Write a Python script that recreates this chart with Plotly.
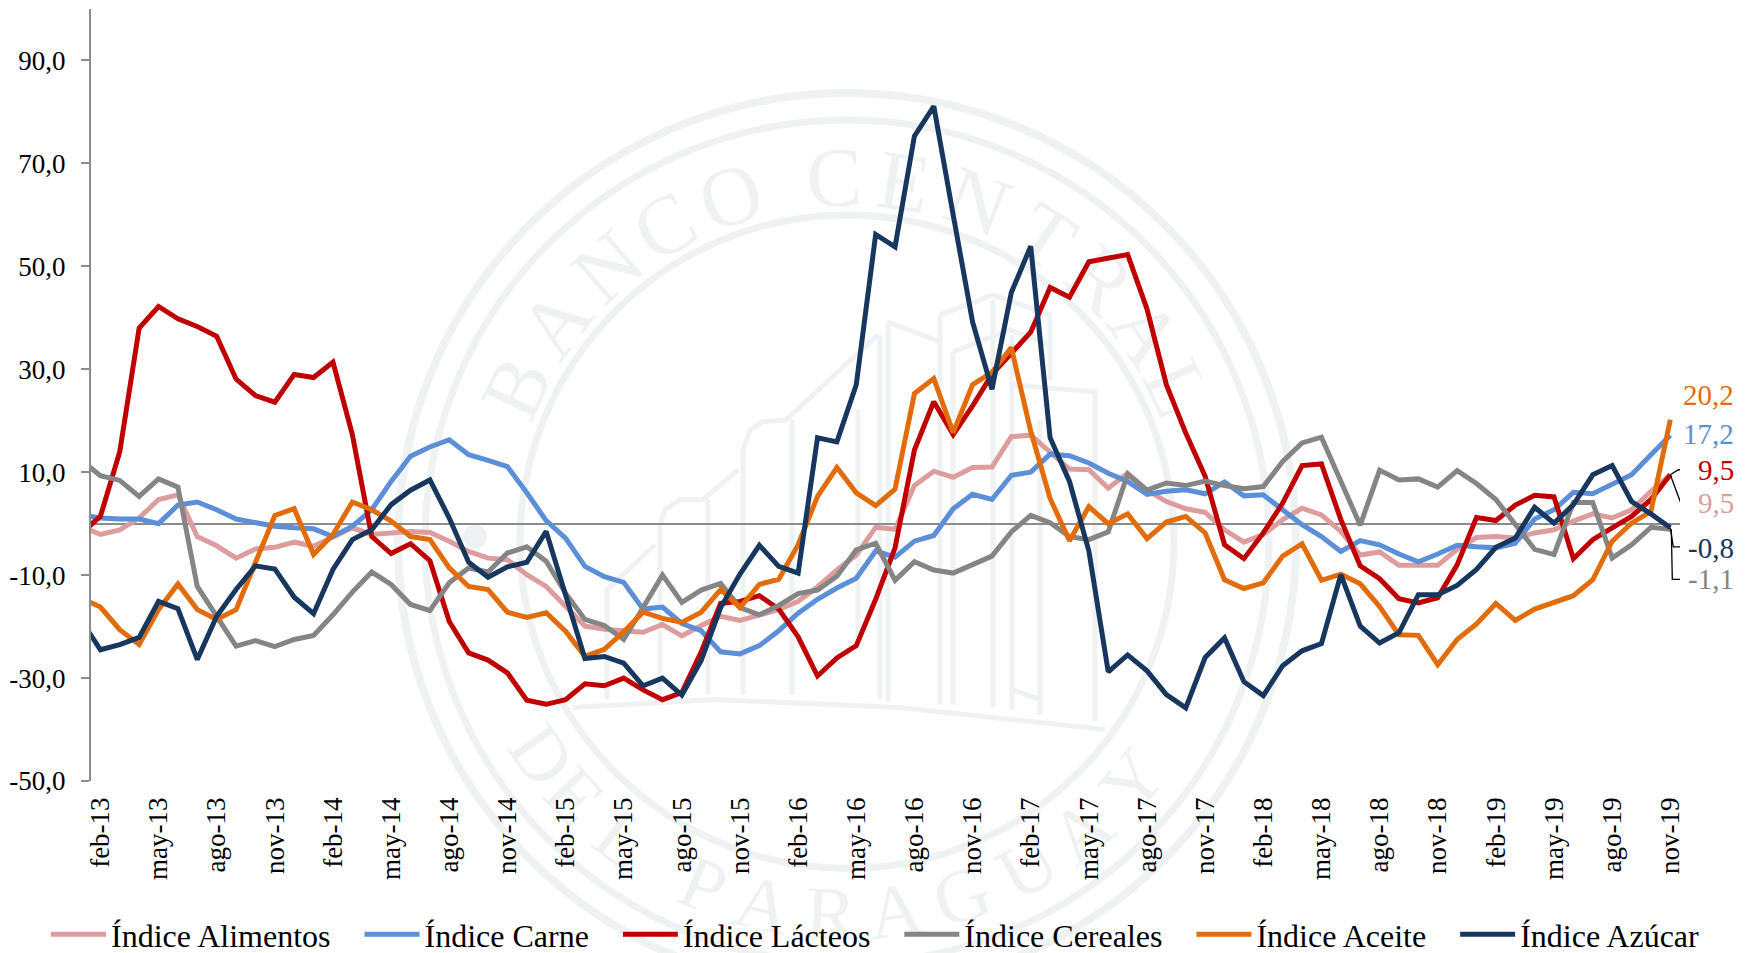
import math
import plotly.graph_objects as go

W, H = 1800, 975
PLOT_L, PLOT_R, PLOT_T, PLOT_B = 90.7, 1680.0, 8.8, 781.5
MARGIN_L = 46
FONT = "Liberation Serif"
PALE = "#EEF2F3"

abbr = ["ene", "feb", "mar", "abr", "may", "jun", "jul", "ago", "sep", "oct", "nov", "dic"]
months = [f"{abbr[(m - 1) % 12]}-{13 + (m - 1) // 12}" for m in range(1, 84)]
tick_months = months[1::3]

alimentos = [-0.5, -2.1, -1.2, 1.1, 4.7, 5.6, -2.5, -4.3, -6.7, -4.9, -4.6, -3.6, -4.4, -2.5, -0.8, -2.1,
             -1.8, -1.5, -1.7, -3.4, -5.4, -6.7, -7.0, -9.9, -12.2, -16.0, -19.9, -20.5, -20.8, -21.1, -19.6,
             -21.8, -19.8, -18.0, -18.8, -17.7, -16.7, -15.1, -12.3, -9.0, -6.1, -0.7, -1.1, 7.4, 10.2, 9.0,
             10.9, 11.0, 16.9, 17.2, 13.9, 10.6, 10.5, 6.9, 9.8, 6.5, 4.3, 2.9, 2.2, -1.2, -3.6, -2.1, 0.8,
             3.0, 1.7, -1.5, -6.1, -5.5, -8.1, -8.0, -8.1, -5.0, -2.7, -2.5, -2.8, -1.8, -1.2, 0.5, 1.9, 1.1,
             2.7, 6.3, 9.5]
carne = [1.7, 1.1, 0.9, 0.9, 0.0, 3.6, 4.2, 2.7, 0.9, 0.1, -0.5, -0.8, -1.0, -2.5, -0.5, 2.7, 8.2, 13.1,
         14.9, 16.3, 13.4, 12.3, 11.1, 6.0, 0.6, -2.8, -8.3, -10.3, -11.4, -16.6, -16.2, -19.4, -20.8, -24.9,
         -25.3, -23.7, -20.8, -17.4, -14.7, -12.5, -10.6, -5.3, -6.5, -3.4, -2.3, 2.9, 5.7, 4.7, 9.4, 10.0,
         13.5, 13.2, 11.8, 9.8, 8.2, 5.7, 6.3, 6.6, 5.8, 8.1, 5.4, 5.6, 2.7, -0.2, -2.5, -5.4, -3.3, -4.1,
         -5.9, -7.4, -5.9, -4.2, -4.5, -4.7, -3.8, 0.9, 2.7, 6.1, 5.8, 7.6, 9.5, 13.4, 17.2]
lacteos = [-1.9, 1.4, 14.0, 38.0, 42.2, 39.8, 38.3, 36.4, 28.1, 24.9, 23.6, 29.0, 28.4, 31.4, 17.3, -2.5,
           -5.8, -3.9, -7.2, -19.0, -25.1, -26.5, -29.0, -34.3, -35.1, -34.2, -31.1, -31.5, -30.0, -32.3,
           -34.2, -32.8, -24.9, -15.5, -15.1, -14.0, -16.6, -22.0, -29.6, -26.1, -23.7, -14.7, -4.7, 14.3,
           23.7, 17.3, 22.9, 29.0, 33.1, 37.2, 45.9, 44.0, 50.9, 51.5, 52.3, 41.7, 27.0, 17.6, 9.2, -4.1,
           -6.8, -1.8, 4.0, 11.3, 11.6, 0.8, -8.2, -10.7, -14.6, -15.4, -14.4, -8.0, 1.2, 0.6, 3.6, 5.5,
           5.2, -6.8, -3.1, -0.8, 1.4, 4.7, 9.5]
cereales = [12.4, 9.3, 8.4, 5.3, 8.7, 7.1, -12.2, -18.0, -23.8, -22.7, -23.9, -22.5, -21.7, -17.7, -13.3,
            -9.4, -11.8, -15.7, -16.9, -11.5, -8.6, -9.4, -5.7, -4.5, -7.3, -13.5, -18.6, -19.8, -22.5,
            -16.3, -10.0, -15.3, -12.9, -11.6, -16.3, -17.7, -15.9, -13.6, -12.9, -10.2, -5.1, -3.8, -11.0,
            -7.4, -9.0, -9.6, -7.9, -6.3, -1.6, 1.6, 0.2, -2.5, -3.1, -1.6, 9.6, 6.5, 7.9, 7.4, 8.3, 7.4,
            6.8, 7.2, 12.1, 15.7, 16.8, 8.2, -0.3, 10.4, 8.5, 8.7, 7.1, 10.3, 7.8, 4.7, -0.2, -5.0, -6.0,
            4.1, 4.1, -6.7, -4.1, -0.7, -1.1]
aceite = [-14.5, -16.2, -20.6, -23.5, -16.7, -11.7, -16.7, -18.6, -16.7, -7.6, 1.6, 2.9, -6.0, -2.1, 4.2,
          2.7, 0.5, -2.5, -3.1, -8.6, -12.2, -12.8, -17.2, -18.2, -17.3, -20.9, -25.8, -24.4, -21.0, -17.2,
          -18.4, -19.2, -17.2, -12.8, -16.3, -11.8, -10.8, -4.1, 5.3, 10.9, 6.0, 3.5, 6.7, 25.3, 28.2, 17.7,
          27.0, 29.4, 34.2, 18.0, 4.9, -3.3, 3.3, 0.0, 1.9, -2.9, 0.3, 1.4, -1.8, -10.9, -12.6, -11.5, -6.3,
          -3.9, -11.0, -9.8, -11.7, -16.1, -21.6, -21.7, -27.4, -22.5, -19.5, -15.5, -18.8, -16.6, -15.2,
          -14.0, -10.9, -3.4, 0.1, 2.4, 20.2]
azucar = [-18.7, -24.5, -23.5, -22.1, -15.1, -16.5, -26.4, -18.0, -12.8, -8.2, -8.8, -14.3, -17.5, -8.9,
          -3.1, -1.2, 3.7, 6.5, 8.5, 1.1, -7.5, -10.4, -8.4, -7.5, -1.5, -13.5, -26.2, -25.8, -27.1, -31.5,
          -30.0, -33.3, -26.6, -16.3, -9.8, -4.2, -8.3, -9.6, 16.7, 15.9, 27.0, 56.2, 53.8, 75.3, 81.1, 60.0,
          39.2, 26.1, 44.9, 53.9, 16.7, 8.2, -5.3, -28.8, -25.5, -28.6, -33.2, -35.8, -26.0, -22.2, -30.7,
          -33.4, -27.6, -24.7, -23.3, -9.9, -19.9, -23.2, -21.2, -13.8, -13.8, -12.0, -8.9, -4.6, -2.8, 3.2,
          0.1, 3.7, 9.5, 11.3, 4.3, 1.9, -0.8]

series_names = ["Índice Alimentos", "Índice Carne", "Índice Lácteos", "Índice Cereales", "Índice Aceite", "Índice Azúcar"]
series_values = [alimentos, carne, lacteos, cereales, aceite, azucar]
series_colors = ["#DD9C9E", "#5B8FD8", "#C00000", "#858585", "#E36C0A", "#17375E"]
legend_pad = [3, 3, 3, 3, 3, 0]

y_ticks = [-50, -30, -10, 10, 30, 50, 70, 90]
y_labels = ["-50,0", "-30,0", "-10,0", "10,0", "30,0", "50,0", "70,0", "90,0"]

end_labels = ["20,2", "17,2", "9,5", "9,5", "-0,8", "-1,1"]
end_values = [20.2, 17.2, 9.5, 9.5, -0.8, -1.1]
end_colors = ["#E36C0A", "#5B8FD8", "#C00000", "#DD9C9E", "#17375E", "#858585"]
end_shift = [25, 1, 5, -28, -20, -50]


def px(x):
    return (x - MARGIN_L) / (W - MARGIN_L)


def py(y):
    return (PLOT_B - y) / (PLOT_B - PLOT_T)


fig = go.Figure()
for name, vals, color, pad in zip(series_names, series_values, series_colors, legend_pad):
    fig.add_trace(go.Scatter(x=months, y=vals, mode="lines", name=name + "\u00a0" * pad,
                             line=dict(color=color, width=5), hoverinfo="x+y+name"))

# Watermark seal, behind the traces
CX, CY = 847, 542
shapes = []
for r, w in [(449, 8), (422, 7), (327, 7)]:
    shapes.append(dict(type="circle", xref="paper", yref="paper", layer="below",
                       x0=px(CX - r), x1=px(CX + r), y0=py(CY + r), y1=py(CY - r),
                       line=dict(color=PALE, width=w), fillcolor="rgba(0,0,0,0)"))
shapes.append(dict(type="circle", xref="paper", yref="paper", layer="below",
                   x0=px(463), x1=px(487), y0=py(549), y1=py(525),
                   line=dict(width=0), fillcolor=PALE))

top_letters = list("BANCOCENTRAL")
top_angles = [-65, -53, -41, -30, -18.6, -2, 9, 21, 33, 44, 55, 65]
bottom_letters = list("DELPARAGUAY")
bottom_angles = [-55, -47, -37, -22.7, -13, -2.5, 7.5, 18, 29, 39, 50]


def letter(ch, cx, cy, ang, size):
    return dict(type="rect", xref="paper", yref="paper", layer="below",
                x0=px(cx - 2), x1=px(cx + 2), y0=py(cy + 2), y1=py(cy - 2),
                line=dict(width=0), fillcolor="rgba(0,0,0,0)",
                label=dict(text=ch, textangle=ang, textposition="middle center",
                           font=dict(family=FONT, size=size, color=PALE)))


for ch, a in zip(top_letters, top_angles):
    t = math.radians(a)
    shapes.append(letter(ch, CX + 374 * math.sin(t), CY - 374 * math.cos(t), a, 84))
for ch, a in zip(bottom_letters, bottom_angles):
    t = math.radians(a)
    shapes.append(letter(ch, CX + 364 * math.sin(t), CY + 364 * math.cos(t), -a, 76))

building = [
    [(607, 700), (607, 590), (655, 545)],
    [(660, 695), (660, 525), (665, 510), (680, 500), (703, 500), (738, 470)],
    [(708, 500), (708, 695)],
    [(743, 695), (743, 450), (750, 430), (762, 422), (786, 420), (878, 335)],
    [(792, 420), (792, 695)],
    [(858, 410), (858, 650)],
    [(880, 335), (880, 700)],
    [(888, 322), (888, 702)],
    [(888, 322), (940, 342)],
    [(940, 315), (940, 705)],
    [(940, 315), (993, 295), (1050, 315), (1050, 380)],
    [(953, 352), (1010, 330), (1050, 345)],
    [(953, 352), (953, 705)],
    [(993, 300), (993, 708)],
    [(1012, 335), (1012, 710)],
    [(1012, 385), (1095, 392), (1095, 722)],
    [(1012, 385), (1012, 690), (1040, 700)],
    [(1040, 420), (1040, 715)],
    [(572, 708), (716, 700), (900, 708), (1105, 730)],
]
d = " ".join("M " + " L ".join(f"{px(x):.5f},{py(y):.5f}" for x, y in line) for line in building)
shapes.append(dict(type="path", xref="paper", yref="paper", layer="below", path=d,
                   line=dict(color=PALE, width=5)))

# Leader lines from the last points to their labels
leaders = [(9.5, "M 0,0 L 8,5 L 21,5"), (9.5, "M 0,0 L 10,-27 L 21,-27"),
           (-0.8, "M 0,0 L 3,-19 L 14,-19"), (-1.1, "M 1,0 L 2,-50 L 14,-50")]
for val, path in leaders:
    shapes.append(dict(type="path", xref="x", yref="y", xsizemode="pixel", ysizemode="pixel",
                       xanchor=months.index("nov-19"), yanchor=val, path=path,
                       line=dict(color="#000000", width=1.3)))

annotations = [
    dict(x="nov-19", y=v, xref="x", yref="y", text=t, showarrow=False, xanchor="right", yanchor="middle",
         xshift=66, yshift=s, font=dict(family=FONT, size=29, color=c))
    for t, v, c, s in zip(end_labels, end_values, end_colors, end_shift)
]

fig.update_layout(
    width=W, height=H, margin=dict(l=MARGIN_L, r=0, t=PLOT_T, b=H - PLOT_B, pad=0),
    paper_bgcolor="white", plot_bgcolor="rgba(0,0,0,0)",
    font=dict(family=FONT, color="#000000"),
    shapes=shapes, annotations=annotations,
    hovermode="closest",
    xaxis=dict(domain=[px(PLOT_L), px(PLOT_R)], type="category", categoryorder="array", categoryarray=months,
               range=[0.5, 82.5], tickmode="array", tickvals=tick_months, ticktext=tick_months,
               tickangle=-90, ticklen=0, showgrid=False, showline=False, zeroline=False, automargin=False,
               tickfont=dict(family=FONT, size=27, color="#000000"), ticklabelstandoff=10),
    yaxis=dict(domain=[0, 1], range=[-50, 100], tickmode="array", tickvals=y_ticks,
               ticktext=y_labels, ticks="outside", ticklen=8, tickwidth=1.7, tickcolor="#8C8C8C",
               showgrid=False, showline=True, linecolor="#8C8C8C", linewidth=1.7, automargin=False,
               zeroline=True, zerolinecolor="#8C8C8C", zerolinewidth=1.5,
               tickfont=dict(family=FONT, size=27, color="#000000"), ticklabelstandoff=10),
    legend=dict(orientation="h", x=0, xanchor="left", y=py(935), yanchor="middle",
                itemwidth=55, font=dict(family=FONT, size=32, color="#000000"),
                bgcolor="rgba(0,0,0,0)", borderwidth=0),
)

fig.write_html("out.html", config={"displayModeBar": False},
               post_script="document.body.style.margin='0';document.body.style.overflow='hidden';")
